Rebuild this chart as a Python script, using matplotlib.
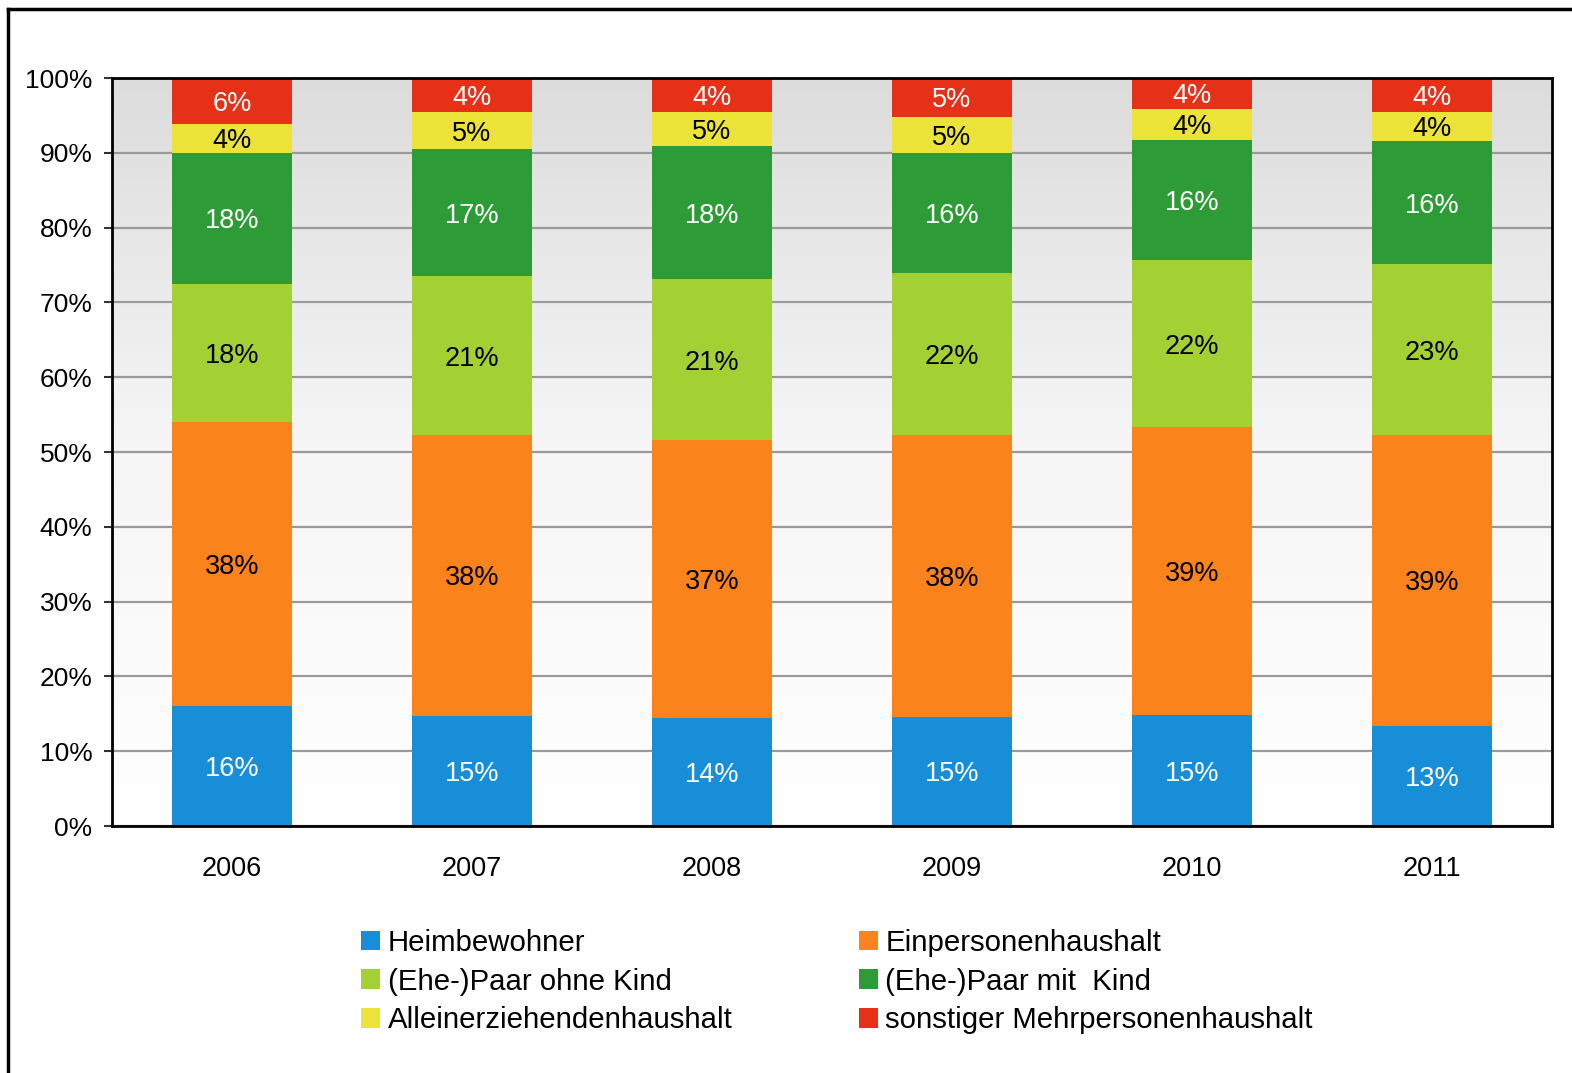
import matplotlib.pyplot as plt
import numpy as np
from matplotlib.lines import Line2D
from matplotlib.patches import Patch

plt.rcParams["font.family"] = ["Liberation Sans", "DejaVu Sans"]

# --- data (segment shares in %) ---
years = ["2006", "2007", "2008", "2009", "2010", "2011"]
categories = ["Heimbewohner", "Einpersonenhaushalt", "(Ehe-)Paar ohne Kind",
              "(Ehe-)Paar mit  Kind", "Alleinerziehendenhaushalt",
              "sonstiger Mehrpersonenhaushalt"]
heim = [16.0, 14.7, 14.4, 14.6, 14.8, 13.4]
einp = [38.0, 37.6, 37.2, 37.7, 38.5, 38.9]
ohne = [18.5, 21.2, 21.5, 21.6, 22.4, 22.8]
mit = [17.5, 17.0, 17.8, 16.1, 16.0, 16.5]
allein = [3.85, 4.95, 4.55, 4.8, 4.2, 3.85]
sonst = [6.15, 4.55, 4.55, 5.2, 4.1, 4.55]

# displayed labels
lbl_heim = ["16%", "15%", "14%", "15%", "15%", "13%"]
lbl_einp = ["38%", "38%", "37%", "38%", "39%", "39%"]
lbl_ohne = ["18%", "21%", "21%", "22%", "22%", "23%"]
lbl_mit = ["18%", "17%", "18%", "16%", "16%", "16%"]
lbl_allein = ["4%", "5%", "5%", "5%", "4%", "4%"]
lbl_sonst = ["6%", "4%", "4%", "5%", "4%", "4%"]

series = [heim, einp, ohne, mit, allein, sonst]
labels = [lbl_heim, lbl_einp, lbl_ohne, lbl_mit, lbl_allein, lbl_sonst]
colors = ["#188ED8", "#FA841B", "#A3D133", "#2E9C36", "#EBE337", "#E63017"]
text_colors = ["white", "black", "black", "white", "black", "white"]

fig = plt.figure(figsize=(15.72, 10.73), dpi=100)
ax = fig.add_axes([112 / 1572, 1 - 826 / 1073, 1440 / 1572, 748 / 1073])

# gradient background of the plot area
grad = np.linspace(0, 1, 256).reshape(-1, 1)
ax.imshow(grad, extent=[-0.5, 5.5, 0, 100], aspect="auto", origin="lower",
          cmap=plt.matplotlib.colors.LinearSegmentedColormap.from_list(
              "bg", ["#ffffff", "#f6f6f6", "#dcdcdc"]), zorder=0)

x = np.arange(len(years))
bottom = np.zeros(len(years))
for vals, lbls, col, tcol in zip(series, labels, colors, text_colors):
    vals = np.array(vals)
    ax.bar(x, vals, bottom=bottom, width=0.5, color=col, zorder=3)
    for xi, b, v, t in zip(x, bottom, vals, lbls):
        ax.text(xi, b + v / 2, t, ha="center", va="center_baseline",
                color=tcol, fontsize=19.5, zorder=4)
    bottom += vals

ax.set_xlim(-0.5, 5.5)
ax.set_ylim(0, 100)
ax.set_yticks(np.arange(0, 101, 10))
ax.set_yticklabels([f"{v}%" for v in range(0, 101, 10)], fontsize=19)
ax.set_xticks(x)
ax.set_xticklabels(years, fontsize=19.5)
ax.tick_params(axis="x", length=0, pad=21.5)
ax.tick_params(axis="y", length=6, width=1.5, pad=8, color="#333333")
ax.yaxis.grid(True, color="#9a9a9a", linewidth=1.6, zorder=1)
ax.set_axisbelow(True)
for s in ax.spines.values():
    s.set_linewidth(2.0)
    s.set_color("black")
    s.set_zorder(5)

handles = [Patch(facecolor=c, edgecolor="none") for c in colors]
order = [0, 2, 4, 1, 3, 5]
fig.legend([handles[i] for i in order], [categories[i] for i in order],
           ncol=2, loc="upper left", bbox_to_anchor=(361 / 1572, 1 - 929 / 1073),
           frameon=False, fontsize=21.2, handlelength=0.65, handleheight=0.65,
           handletextpad=0.25, columnspacing=4.3, labelspacing=0.36,
           borderaxespad=0, borderpad=0)

# outer frame (top and left edges visible)
fig.add_artist(Line2D([8 / 1572, 8 / 1572], [0, 1 - 9 / 1073],
                      color="black", linewidth=2.5, transform=fig.transFigure))
fig.add_artist(Line2D([8 / 1572, 1], [1 - 9 / 1073, 1 - 9 / 1073],
                      color="black", linewidth=2.5, transform=fig.transFigure))

fig.savefig("out.png", dpi=100)
